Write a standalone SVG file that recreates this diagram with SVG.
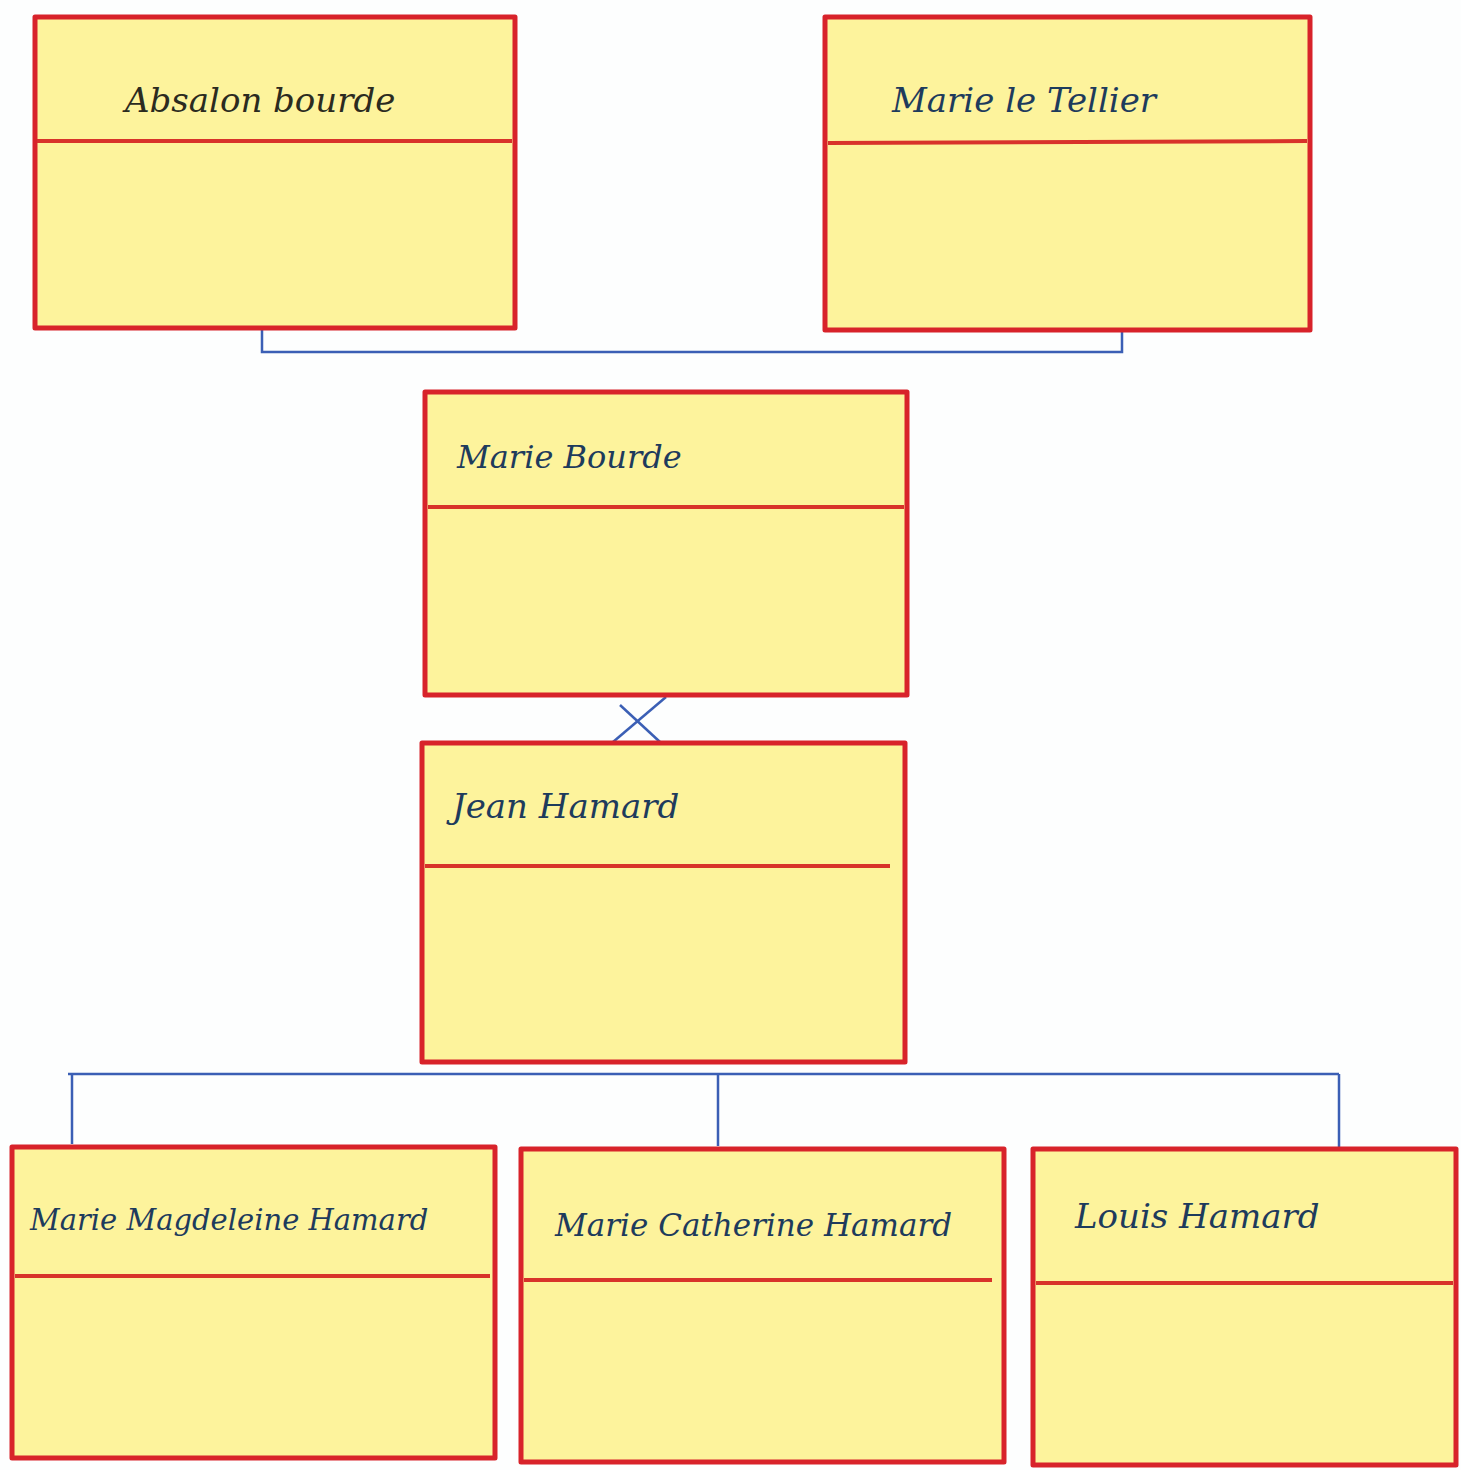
<svg xmlns="http://www.w3.org/2000/svg" width="1461" height="1470" viewBox="0 0 1461 1470">
<style>
.box{fill:#fdf39c;stroke:#d8232a;stroke-width:5;stroke-linejoin:round}
.div{stroke:#d8322a;stroke-width:4;fill:none}
.name{font-family:"DejaVu Serif","Liberation Serif",serif;font-style:italic;font-size:34px;fill:#1e3b5c}
.conn{stroke:#3b5fb5;stroke-width:2.5;fill:none}
</style>
<rect width="1461" height="1470" fill="#fdfefe"/>
<g id="connectors">
<polyline class="conn" points="262,328 262,352 1122,352 1122,325"/>
<line class="conn" x1="620" y1="705" x2="660" y2="742"/>
<line class="conn" x1="666" y1="697" x2="613" y2="742"/>
<line class="conn" x1="68" y1="1074" x2="1339" y2="1074"/>
<line class="conn" x1="72" y1="1074" x2="72" y2="1144"/>
<line class="conn" x1="718" y1="1074" x2="718" y2="1146"/>
<line class="conn" x1="1339" y1="1074" x2="1339" y2="1147"/>
</g>
<g id="absalon-bourde">
<rect class="box" x="35" y="17" width="480" height="311"/>
<line class="div" x1="37" y1="141" x2="512" y2="141"/>
<text class="name" x="125" y="112" style="fill:#2b2b1f">Absalon bourde</text>
</g>
<g id="marie-le-tellier">
<rect class="box" x="825" y="17" width="485" height="313"/>
<line class="div" x1="828" y1="143" x2="1307" y2="141"/>
<text class="name" x="892" y="112">Marie le Tellier</text>
</g>
<g id="marie-bourde">
<rect class="box" x="425" y="392" width="482" height="303"/>
<line class="div" x1="428" y1="507" x2="904" y2="507"/>
<text class="name" x="457" y="468" style="font-size:32px">Marie Bourde</text>
</g>
<g id="jean-hamard">
<rect class="box" x="422" y="743" width="483" height="319"/>
<line class="div" x1="425" y1="866" x2="890" y2="866"/>
<text class="name" x="452" y="818">Jean Hamard</text>
</g>
<g id="marie-magdeleine-hamard">
<rect class="box" x="12" y="1147" width="483" height="311"/>
<line class="div" x1="15" y1="1276" x2="490" y2="1276"/>
<text class="name" x="30" y="1230" style="font-size:29px">Marie Magdeleine Hamard</text>
</g>
<g id="marie-catherine-hamard">
<rect class="box" x="521" y="1149" width="483" height="313"/>
<line class="div" x1="524" y1="1280" x2="992" y2="1280"/>
<text class="name" x="555" y="1236" style="font-size:31px">Marie Catherine Hamard</text>
</g>
<g id="louis-hamard">
<rect class="box" x="1033" y="1149" width="423" height="316"/>
<line class="div" x1="1036" y1="1283" x2="1453" y2="1283"/>
<text class="name" x="1075" y="1228">Louis Hamard</text>
</g>
</svg>
